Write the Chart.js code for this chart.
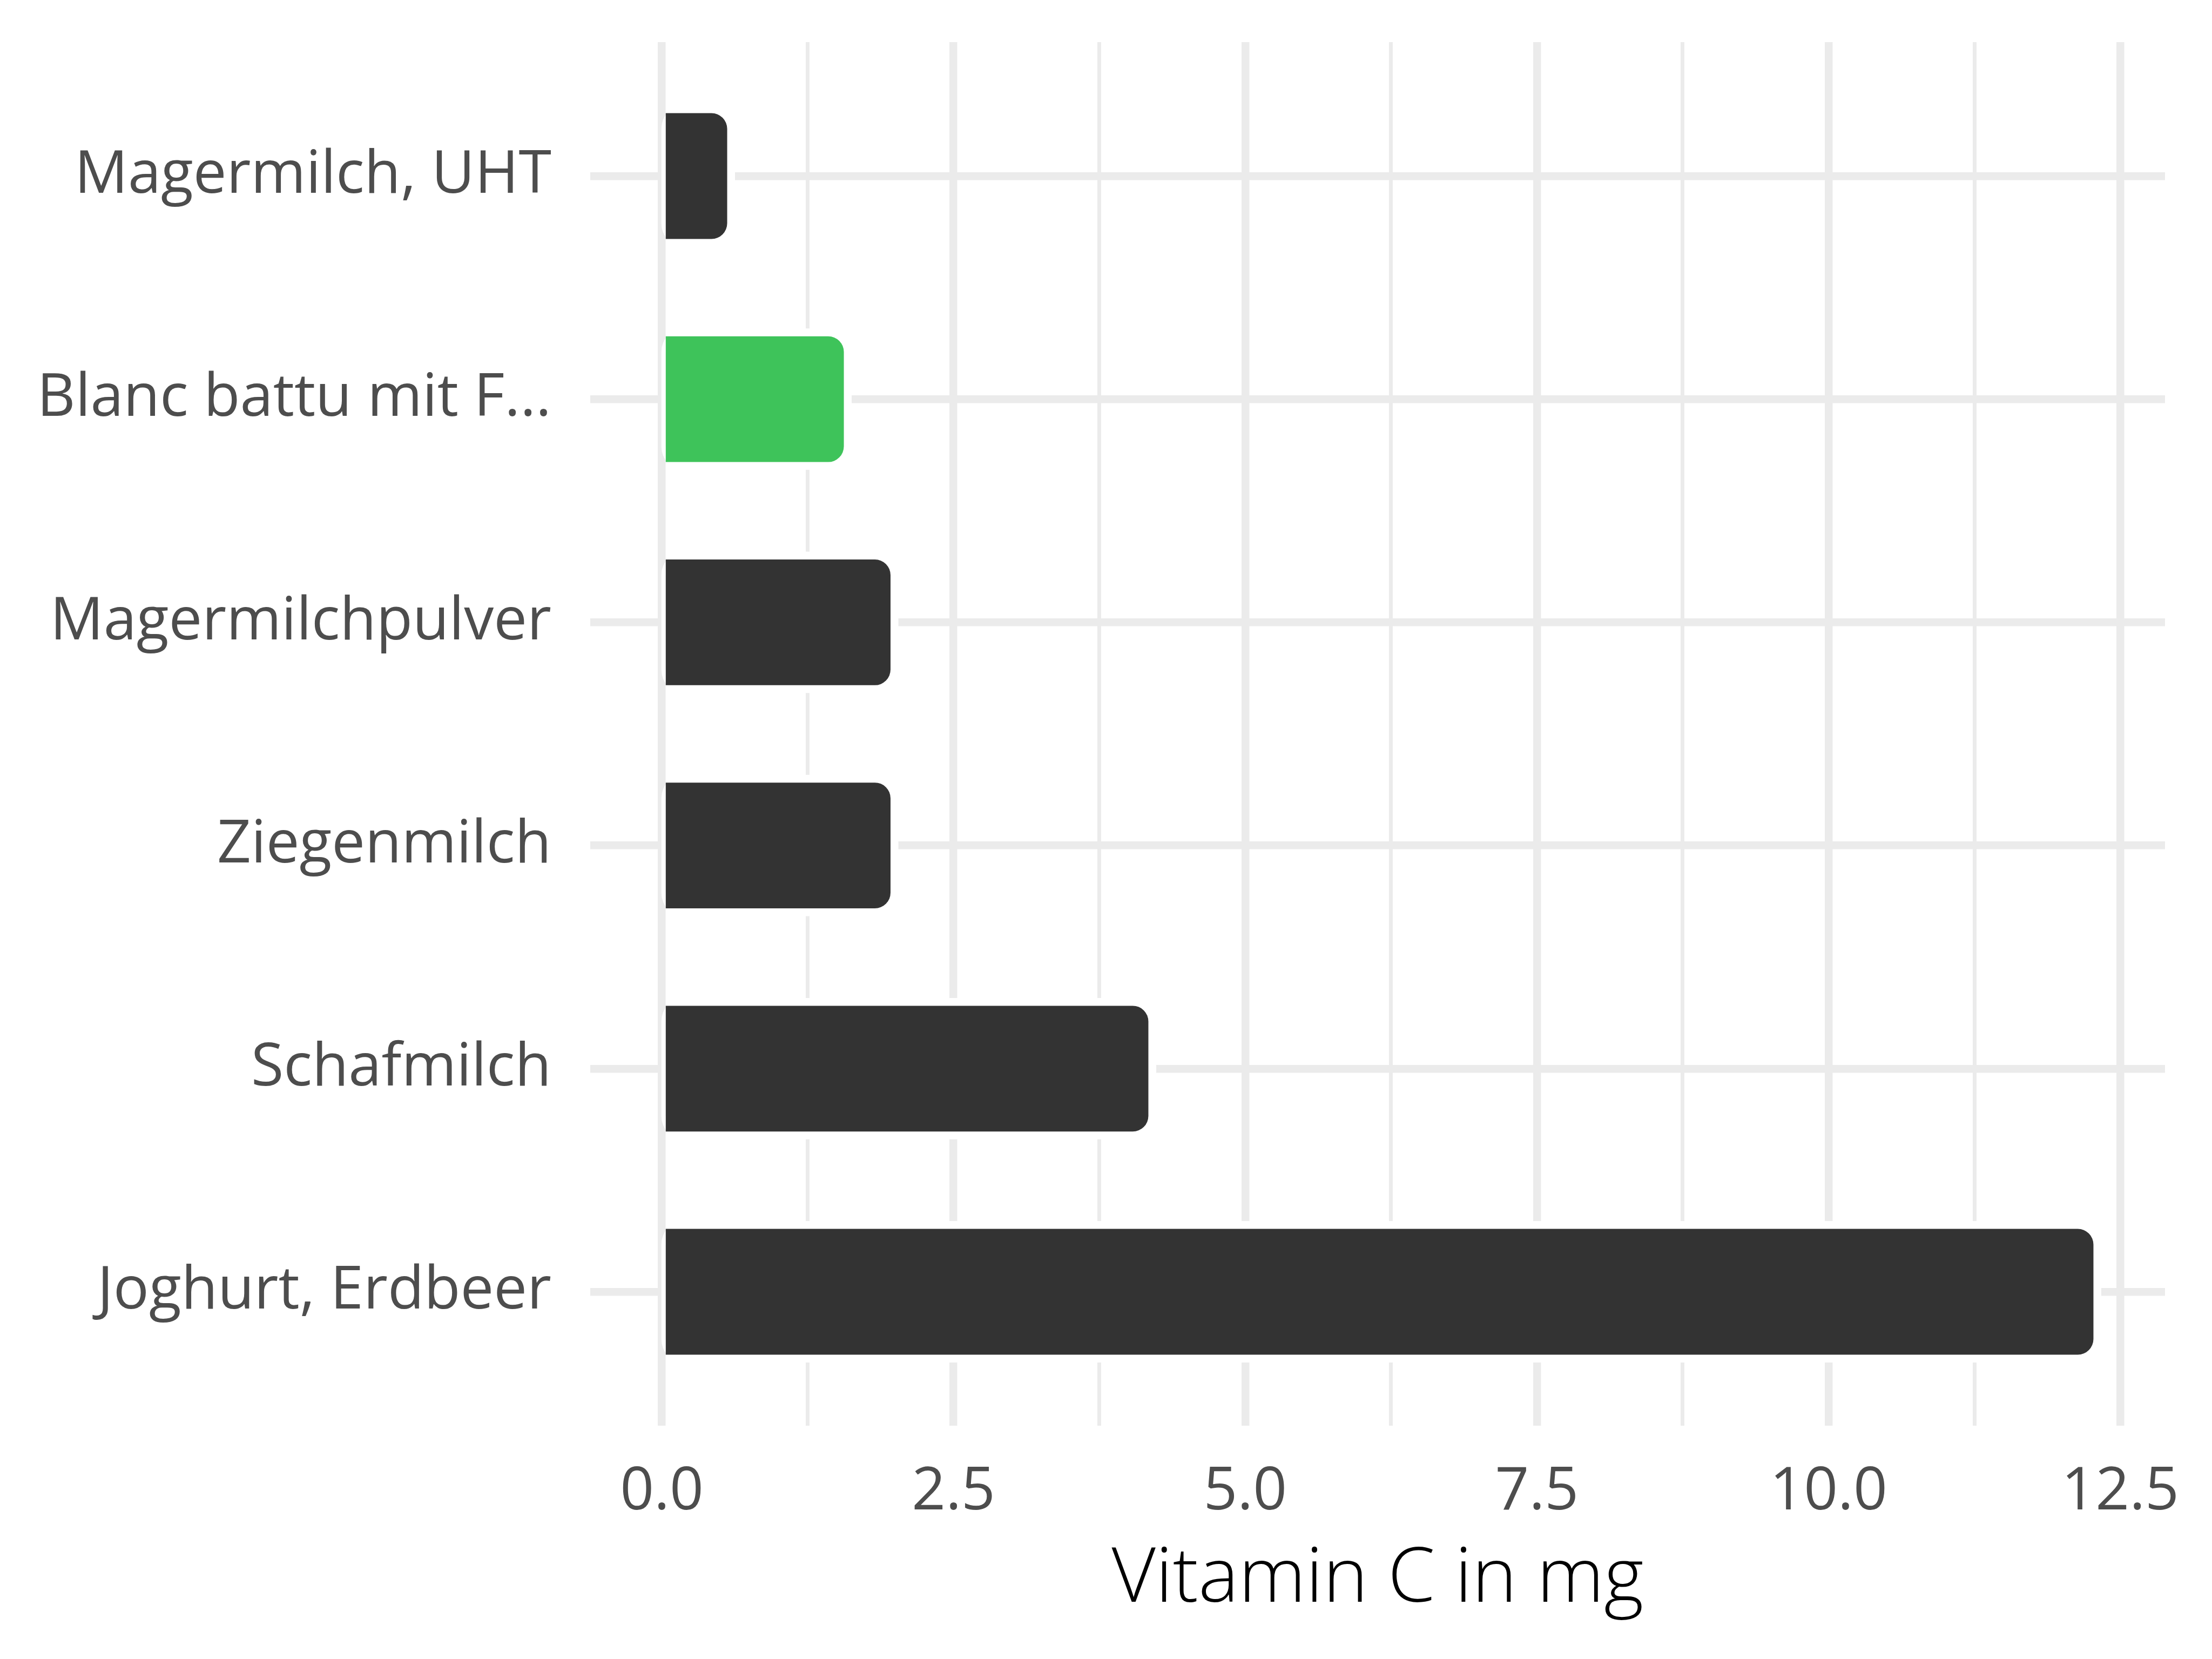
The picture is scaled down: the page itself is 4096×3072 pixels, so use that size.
<!DOCTYPE html>
<html lang="de">
<head>
    <meta charset="UTF-8">
    <title>Vitamin C in mg</title>
    <script src="https://cdn.jsdelivr.net/npm/chart.js"></script>
    <style>
        html, body { margin: 0; padding: 0; background: #ffffff; }
        #wrap { width: 4096px; height: 3072px; }
    </style>
</head>
<body>
    <div id="wrap">
        <canvas id="vitaminChart" width="4096" height="3072"></canvas>
    </div>

    <script>
        // Werte (von oben nach unten)
        const categories = ['Magermilch, UHT', 'Blanc battu mit F...', 'Magermilchpulver', 'Ziegenmilch', 'Schafmilch', 'Joghurt, Erdbeer'];
        const vitaminC = [0.56, 1.56, 1.96, 1.96, 4.17, 12.27];
        const barColors = ['#333333', '#3ec35a', '#333333', '#333333', '#333333', '#333333'];
        const xTicks = [0, 1.25, 2.5, 3.75, 5, 6.25, 7.5, 8.75, 10, 11.25, 12.5];
        const xTickLabels = ['0.0', '', '2.5', '', '5.0', '', '7.5', '', '10.0', '', '12.5'];
        const axisTitle = 'Vitamin C in mg';

        const S = 0.853; // scale of the reference
        const fontFamily = "'Open Sans', sans-serif";
        const gridColor = '#ebebeb';

        // range like ggplot: 5% padding on x, 0.6 category on y
        const xMax = Math.max(...vitaminC);
        const xMin = -0.05 * xMax;

        // white halo behind each bar, cutting the grid lines
        const haloPlugin = {
            id: 'halo',
            beforeDatasetsDraw(chart) {
                const ctx = chart.ctx;
                const meta = chart.getDatasetMeta(0);
                ctx.save();
                ctx.fillStyle = '#ffffff';
                meta.data.forEach(bar => {
                    const p = bar.getProps(['x', 'y', 'base', 'height'], true);
                    const left = p.base - 9.5 * S;
                    const top = p.y - p.height / 2 - 17 * S;
                    const w = p.x - left + 17 * S;
                    const h = p.height + 34 * S;
                    ctx.beginPath();
                    ctx.roundRect(left, top, w, h, 50 * S);
                    ctx.fill();
                });
                ctx.restore();
            }
        };

        function noEdgePadding(scale) {
            scale.paddingTop = 0;
            scale.paddingBottom = 0;
            scale.paddingLeft = 0;
            scale.paddingRight = 0;
        }

        function drawChart() {
            const ctx = document.getElementById('vitaminChart').getContext('2d');
            new Chart(ctx, {
                type: 'bar',
                data: {
                    datasets: [{
                        data: vitaminC.map((v, i) => ({ x: v, y: i })),
                        backgroundColor: barColors,
                        borderWidth: 0,
                        borderRadius: 34 * S,
                        borderSkipped: 'start',
                        categoryPercentage: 1,
                        barPercentage: 0.5636
                    }]
                },
                options: {
                    indexAxis: 'y',
                    responsive: false,
                    animation: false,
                    devicePixelRatio: 1,
                    layout: { padding: { top: 78, right: 87, bottom: 0, left: 0 } },
                    plugins: {
                        legend: { display: false },
                        tooltip: { enabled: false }
                    },
                    scales: {
                        x: {
                            type: 'linear',
                            min: xMin,
                            max: xMax * 1.05,
                            afterBuildTicks: scale => {
                                scale.ticks = xTicks.map(v => ({ value: v }));
                            },
                            afterFit: scale => {
                                scale.height = 432;
                                noEdgePadding(scale);
                            },
                            ticks: {
                                autoSkip: false,
                                maxRotation: 0,
                                padding: 58,
                                color: '#4d4d4d',
                                font: { family: fontFamily, size: 110, weight: '400' },
                                callback: (value) => xTickLabels[xTicks.indexOf(value)]
                            },
                            grid: {
                                color: gridColor,
                                drawTicks: false,
                                lineWidth: c => (c.tick && c.tick.value % 2.5 === 0) ? 14.5 : 7
                            },
                            border: { display: false },
                            title: {
                                display: true,
                                text: axisTitle,
                                color: '#000000',
                                font: { family: fontFamily, size: 141, weight: '300' },
                                padding: { top: 0, bottom: 62 }
                            }
                        },
                        y: {
                            type: 'linear',
                            reverse: true,
                            offset: false,
                            min: -0.6,
                            max: categories.length - 0.4,
                            afterBuildTicks: scale => {
                                scale.ticks = categories.map((c, i) => ({ value: i }));
                            },
                            afterFit: scale => {
                                scale.width = 1093;
                                noEdgePadding(scale);
                            },
                            ticks: {
                                autoSkip: false,
                                padding: 72,
                                color: '#4d4d4d',
                                font: { family: fontFamily, size: 110, weight: '400' },
                                callback: (value) => categories[value]
                            },
                            grid: {
                                offset: false,
                                color: gridColor,
                                drawTicks: false,
                                lineWidth: 14.5
                            },
                            border: { display: false }
                        }
                    }
                },
                plugins: [haloPlugin]
            });
        }

        if (document.fonts && document.fonts.load) {
            Promise.all([
                document.fonts.load("400 110px 'Open Sans'"),
                document.fonts.load("300 141px 'Open Sans'")
            ]).then(drawChart, drawChart);
        } else {
            drawChart();
        }
    </script>
</body>
</html>
